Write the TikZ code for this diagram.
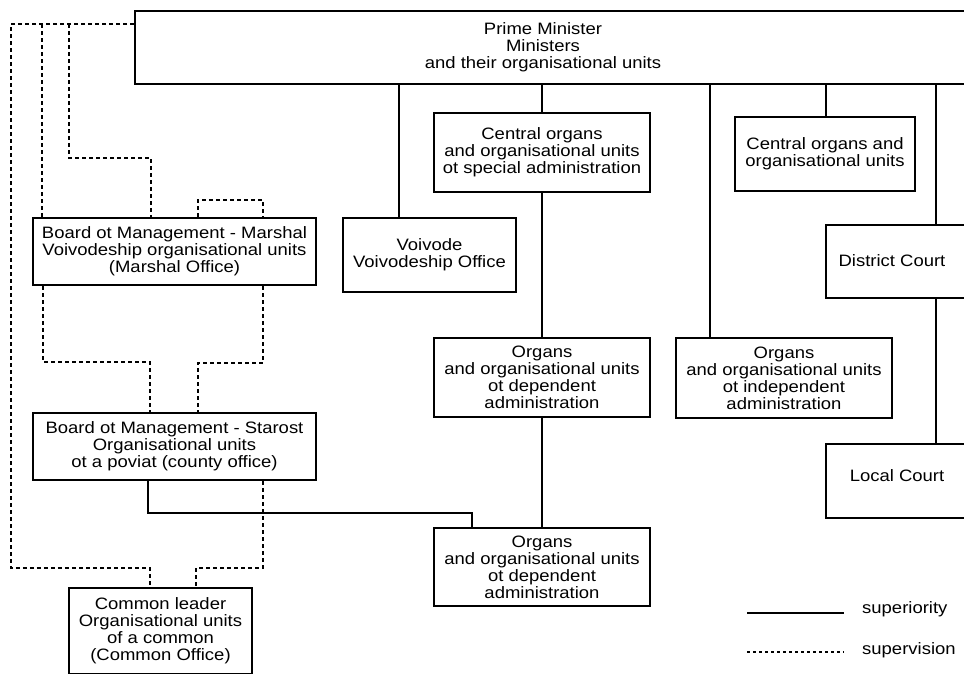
\documentclass[tikz,border=0pt]{standalone}
\usepackage{fontspec}
\setmainfont{Liberation Sans}[FakeStretch=1.12]
\begin{document}
\begin{tikzpicture}[x=1pt,y=-1pt,
  box/.style={draw, line width=2.3pt, rectangle, align=center, inner sep=2pt, font=\fontsize{16.5}{17}\selectfont},
  txt/.style={align=center, inner sep=0pt, font=\fontsize{16.5}{17}\selectfont},
  suplink/.style={line width=2.3pt},
  vislink/.style={line width=2.3pt, dash pattern=on 4pt off 3pt},
  legvis/.style={line width=1.5pt, dash pattern=on 3pt off 3pt},
]
\clip (0,0) rectangle (964,673);
% boxes
\node[box, anchor=north west, minimum width=900pt, minimum height=73pt] (pm) at (134,10) {};
\node[txt] (pmt) at (543,47) {Prime Minister\\Ministers\\and their organisational units};
\node[box, minimum width=283pt, minimum height=67pt] (marshal) at (174.5,251.5) {Board ot Management - Marshal\\Voivodeship organisational units\\(Marshal Office)};
\node[box, minimum width=283pt, minimum height=67pt] (starost) at (174.5,446.5) {Board ot Management - Starost\\Organisational units\\ot a poviat (county office)};
\node[box, minimum width=183pt, minimum height=86pt] (common) at (160.5,631) {Common leader\\Organisational units\\of a common\\(Common Office)};
\node[box, minimum width=173pt, minimum height=74pt] (voiv) at (429.5,255) {Voivode\\Voivodeship Office};
\node[box, minimum width=216pt, minimum height=79pt] (cspec) at (542,152.5) {Central organs\\and organisational units\\ot special administration};
\node[box, minimum width=216pt, minimum height=79pt] (dep1) at (542,377.5) {Organs\\and organisational units\\ot dependent\\administration};
\node[box, minimum width=216pt, minimum height=78pt] (dep2) at (542,567) {Organs\\and organisational units\\ot dependent\\administration};
\node[box, minimum width=216pt, minimum height=80pt] (indep) at (784,378) {Organs\\and organisational units\\ot independent\\administration};
\node[box, minimum width=180pt, minimum height=74pt] (corg) at (825,154) {Central organs and\\organisational units};
\node[box, anchor=north west, minimum width=200pt, minimum height=73pt] (district) at (825,224) {};
\node[txt] (districtt) at (892,261) {District Court};
\node[box, anchor=north west, minimum width=200pt, minimum height=74pt] (local) at (825,443) {};
\node[txt] (localt) at (897,476) {Local Court};
% superiority links
\draw[suplink] (pm.south -| 399,0) -- (voiv.north -| 399,0);
\draw[suplink] (pm.south -| cspec.north) -- (cspec.north);
\draw[suplink] (cspec.south) -- (dep1.north);
\draw[suplink] (dep1.south) -- (dep2.north);
\draw[suplink] (pm.south -| 710,0) -- (indep.north -| 710,0);
\draw[suplink] (pm.south -| 826,0) -- (corg.north -| 826,0);
\draw[suplink] (pm.south -| 936,0) -- (district.north -| 936,0);
\draw[suplink] (district.south -| 936,0) -- (local.north -| 936,0);
\draw[suplink] (starost.south -| 148,0) -- (148,513) -- (472,513) -- (dep2.north -| 472,0);
% supervision links
\coordinate (j1) at (42,24);
\coordinate (j2) at (69,24);
\draw[vislink] (pm.west |- 0,24) -- (11,24) -- (11,568) -- (150,568) -- (common.north -| 150,0);
\draw[vislink] (j1) -- (marshal.north -| 42,0);
\draw[vislink] (j2) -- (69,158) -- (151,158) -- (marshal.north -| 151,0);
\draw[vislink] (marshal.north -| 198,0) -- (198,200) -- (263,200) -- (marshal.north -| 263,0);
\draw[vislink] (marshal.south -| 43,0) -- (43,362) -- (150,362) -- (starost.north -| 150,0);
\draw[vislink] (marshal.south -| 263,0) -- (263,363) -- (198,363) -- (starost.north -| 198,0);
\draw[vislink] (starost.south -| 263,0) -- (263,568) -- (196,568) -- (common.north -| 196,0);
% legend
\coordinate (la) at (747,613);
\coordinate (lb) at (844,613);
\coordinate (lc) at (747,652);
\coordinate (ld) at (844,652);
\draw[suplink] (la) -- (lb);
\draw[legvis] (lc) -- (ld);
\node[txt, anchor=west] (lsup) at (862,609) {superiority};
\node[txt, anchor=west] (lvis) at (862,650) {supervision};
\end{tikzpicture}
\end{document}
